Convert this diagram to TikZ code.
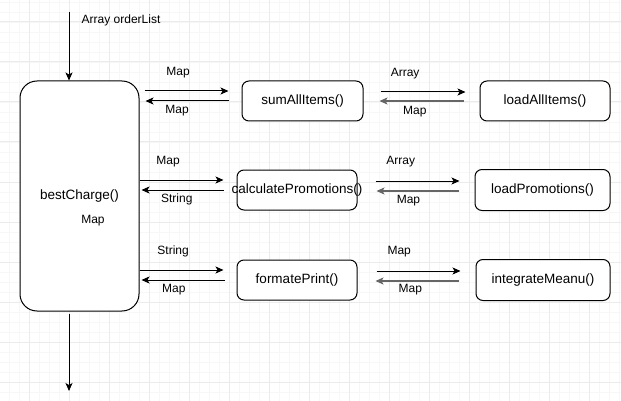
\documentclass[tikz,border=0pt]{standalone}
\usepackage{fontspec}
\setmainfont{Liberation Sans}
\usetikzlibrary{arrows.meta,positioning,calc}
\newcommand{\zerowidth}[1]{\makebox[0pt]{#1}}

\begin{document}
\begin{tikzpicture}[
        x=1pt, y=-1pt,
        >={Stealth[length=8pt,width=7pt,inset=2pt]},
        fn/.style={rectangle, rounded corners=7pt, draw=black, line width=1pt, fill=white, minimum width=121pt, minimum height=40pt, inner sep=0pt, font=\fontsize{13.5}{16}\selectfont},
        mainbox/.style={fn, rounded corners=17pt, minimum width=119pt, minimum height=230pt},
        lbl/.style={inner sep=0pt, font=\fontsize{12}{14}\selectfont},
        arrow/.style={->, line width=1pt},
        grayarrow/.style={->, draw=black!60, line width=1.5pt},
        gridminor/.style={draw=black!3, line width=0.8pt},
        gridmajor/.style={draw=black!8, line width=1pt}
    ]
        % page and grid
        \useasboundingbox (0,0) rectangle (621,401);
        \fill[white] (0,0) rectangle (621,401);
        \begin{scope}
            \clip (0,0) rectangle (621,401);
            \draw[gridminor, xshift=9pt, yshift=-2pt, step=10pt] (-9pt,2pt) grid (612pt,-399pt);
            \draw[gridmajor, xshift=29pt, yshift=-22pt, step=40pt] (-29pt,22pt) grid (592pt,-379pt);
        \end{scope}

        % boxes
        \node[mainbox] (bestCharge) at (79.5,196) {bestCharge()};
        \node[lbl] (bestChargeMap) at ($(bestCharge.center)+(13.5,25)$) {Map};
        \node[fn] (sumAll) at (302.5,101) {sumAllItems()};
        \node[fn, minimum width=120pt] (calcPromo) at (297,190) {\zerowidth{calculatePromotions()}};
        \node[fn, minimum width=120pt] (formatPrint) at (297,280) {formatePrint()};
        \node[fn, minimum width=130pt, right=116pt of sumAll] (loadAll) {loadAllItems()};
        \node[fn, minimum width=135pt, minimum height=41pt, right=117pt of calcPromo] (loadPromo) {loadPromotions()};
        \node[fn, minimum width=134pt, minimum height=41pt, right=118pt of formatPrint] (integMenu) {integrateMeanu()};

        % input and output
        \coordinate (inTop) at (69,12);
        \coordinate (outEnd) at (69,391);
        \node[lbl, anchor=west] (inLbl) at ($(inTop)+(12.5,8.5)$) {Array orderList};
        \draw[arrow] (inTop) -- (inTop |- bestCharge.north);
        \draw[arrow] ($(inTop |- bestCharge.south)+(0,2)$) -- (outEnd);

        % row 1
        \draw[arrow] ($(bestCharge.east |- sumAll.west)+(5,-10)$) -- node[lbl, pos=.4, yshift=18.5pt] (mapToSum) {Map} ($(sumAll.west)+(-13,-10)$);
        \draw[arrow] ($(sumAll.west)+(-13,0)$) -- node[lbl, pos=.62, yshift=-10pt] (mapFromSum) {Map} ($(bestCharge.east |- sumAll.west)+(6,0)$);
        \draw[arrow] ($(sumAll.east)+(17,-9)$) -- node[lbl, pos=.29, yshift=18.5pt] (arrayToLoadAll) {Array} ($(loadAll.west)+(-14,-9)$);
        \draw[grayarrow] ($(loadAll.west)+(-16,0)$) -- node[lbl, text=black, pos=.58, yshift=-10.5pt] (mapFromLoadAll) {Map} ($(sumAll.east)+(16,0)$);

        % row 2
        \draw[arrow] ($(bestCharge.east |- calcPromo.west)+(0,-10)$) -- node[lbl, pos=.34, yshift=18.5pt] (mapToCalc) {Map} ($(calcPromo.west)+(-13,-10)$);
        \draw[arrow] ($(calcPromo.west)+(-13,0)$) -- node[lbl, pos=.57, yshift=-9.5pt] (stringFromCalc) {String} ($(bestCharge.east |- calcPromo.west)+(2,0)$);
        \draw[arrow] ($(calcPromo.east)+(18,-9)$) -- node[lbl, pos=.3, yshift=19pt] (arrayToLoadPromo) {Array} ($(loadPromo.west |- calcPromo.east)+(-15,-9)$);
        \draw[grayarrow] ($(loadPromo.west |- calcPromo.east)+(-16,1)$) -- node[lbl, text=black, pos=.61, yshift=-9.5pt] (mapFromLoadPromo) {Map} ($(calcPromo.east)+(19,1)$);

        % row 3
        \draw[arrow] ($(bestCharge.east |- formatPrint.west)+(0,-10)$) -- node[lbl, pos=.4, yshift=18.5pt] (stringToFormat) {String} ($(formatPrint.west)+(-13,-10)$);
        \draw[arrow] ($(formatPrint.west)+(-12,0)$) -- node[lbl, pos=.61, yshift=-10pt] (mapFromFormat) {Map} ($(bestCharge.east |- formatPrint.west)+(2,0)$);
        \draw[arrow] ($(formatPrint.east)+(19,-9)$) -- node[lbl, pos=.27, yshift=19pt] (mapToInteg) {Map} ($(integMenu.west |- formatPrint.east)+(-15,-9)$);
        \draw[grayarrow] ($(integMenu.west |- formatPrint.east)+(-17,1)$) -- node[lbl, text=black, pos=.58, yshift=-9pt] (mapFromInteg) {Map} ($(formatPrint.east)+(18,1)$);
    \end{tikzpicture}
\end{document}
